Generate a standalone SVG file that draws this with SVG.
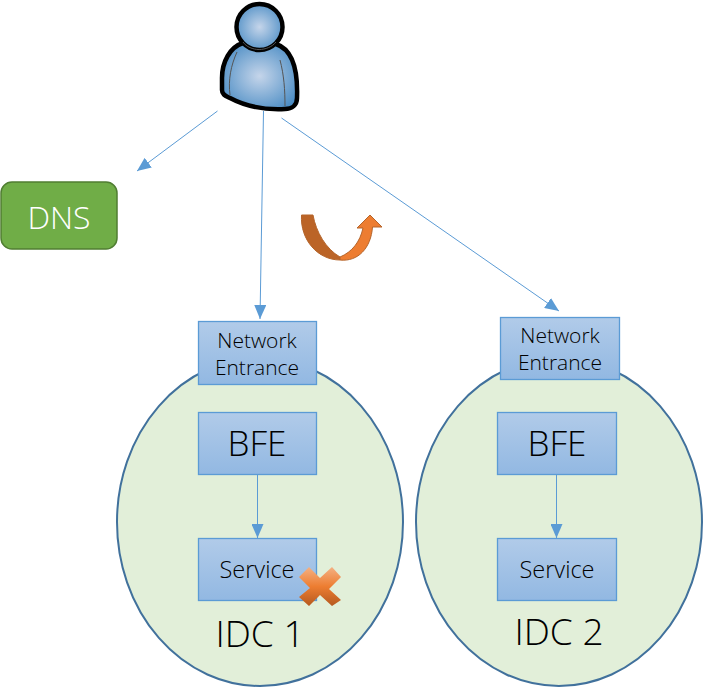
<svg xmlns="http://www.w3.org/2000/svg" width="703" height="687" viewBox="0 0 703 687">
<style>
text{font-family:"Open Sans","Noto Sans",sans-serif;font-weight:300;fill:#000;text-anchor:middle}
.idc{fill:#e2efd9;stroke:#41719c;stroke-width:2}
.box{fill:url(#bg);stroke:#5b9bd5;stroke-width:1.3}
.c{stroke:#5b9bd5;stroke-width:1;fill:none;marker-end:url(#ah)}
.s{font-size:21px}.v{font-size:23.500px}.b{font-size:35px}.l{font-size:37px}
.edge{fill:none;stroke:#555;stroke-width:1}
</style>
<defs>
<linearGradient id="bg" x1="0" y1="0" x2="0" y2="1"><stop offset="0" stop-color="#b1cbe9"/><stop offset="1" stop-color="#92b8e2"/></linearGradient>
<radialGradient id="pg" cx="0.5" cy="0.5" r="0.6"><stop offset="0" stop-color="#c5d5ea"/><stop offset="1" stop-color="#4a8cc4"/></radialGradient>
<linearGradient id="xg" x1="0" y1="0" x2="0" y2="1"><stop offset="0" stop-color="#f4b183"/><stop offset="0.5" stop-color="#ed7d31"/><stop offset="1" stop-color="#b5591f"/></linearGradient>
<marker id="ah" markerUnits="userSpaceOnUse" markerWidth="15" markerHeight="12" refX="14" refY="6" orient="auto"><path d="M0 0L14 6L0 12Z" fill="#5b9bd5"/></marker>
</defs>
<g id="idc1"><ellipse class="idc" cx="260" cy="522" rx="143" ry="164"/><text class="l" x="260" y="647">IDC 1</text></g>
<g id="idc2"><ellipse class="idc" cx="559" cy="522" rx="143" ry="164"/><text class="l" x="559" y="645">IDC 2</text></g>
<g id="user">
<path d="M243 43C230 47 222 62 222 78V90C222 95 226 96 230 98C245 106 265 110 285 109C292 109 297 105 297 98C298 72 294 50 276 44Z" fill="url(#pg)" stroke="#000" stroke-width="4.5" stroke-linejoin="round"/>
<circle cx="259.500" cy="27" r="23" fill="url(#pg)" stroke="#000" stroke-width="4.500"/>
<path class="edge" d="M243 42C250 52 268 52 276 42M237 52C231 65 228 80 230 95M280 60C284 75 285 90 285 106"/>
</g>
<g id="dns"><rect x="1" y="182" width="116" height="67" rx="11" fill="#70ad47" stroke="#507e32" stroke-width="1.500"/><text x="59" y="229" font-size="32" style="fill:#fff">DNS</text></g>
<g id="ne1"><rect class="box" x="198.500" y="321.500" width="118" height="63"/><text class="s" x="257" y="348">Network</text><text class="s" x="257" y="375">Entrance</text></g>
<g id="ne2"><rect class="box" x="500.500" y="317.500" width="119" height="62"/><text class="s" x="560" y="343">Network</text><text class="s" x="560" y="370">Entrance</text></g>
<g id="bfe1"><rect class="box" x="198.500" y="412.500" width="118" height="62"/><text class="b" x="257" y="456">BFE</text></g>
<g id="bfe2"><rect class="box" x="497.500" y="412.500" width="119" height="62"/><text class="b" x="557" y="456">BFE</text></g>
<g id="svc1"><rect class="box" x="198.500" y="538.500" width="118" height="62"/><text class="v" x="257" y="578">Service</text></g>
<g id="svc2"><rect class="box" x="497.500" y="538.500" width="119" height="62"/><text class="v" x="557" y="578">Service</text></g>
<g id="connectors">
<path class="c" d="M217.500 111L137 171"/>
<path class="c" d="M263.500 111L260 319"/>
<path class="c" d="M281.500 118L559 311"/>
<path class="c" d="M257.500 475V538"/>
<path class="c" d="M556.500 475V538"/>
</g>
<g id="uturn">
<path d="M301.500 215H313C316 232 326 249 340 257L340 260C318 260 300 240 301.500 215Z" fill="#bb6427" stroke="#b5652b" stroke-width="1"/>
<path d="M340 257C352 252 360 242 363 228H357L370 215L382 227H372.500C371 248 358 262 340 260Z" fill="#ed7d31" stroke="#b5652b" stroke-width="1"/>
</g>
<g id="cross"><path d="M309 567L320 578L332 567L341 577L329 589L341 600L332 606L320 595L309 606L299 597L310 588L299 577Z" fill="url(#xg)"/></g>
</svg>
